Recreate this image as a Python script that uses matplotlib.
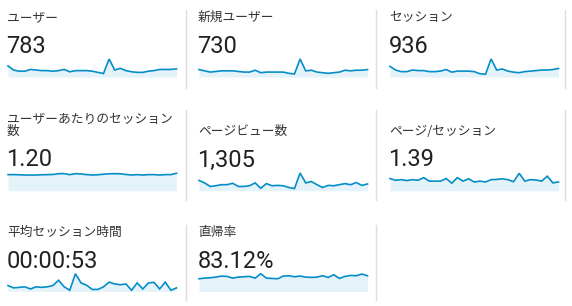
import matplotlib.pyplot as plt
import numpy as np

# panel titles and headline values
titles = ["ユーザー", "新規ユーザー", "セッション",
          "ユーザーあたりのセッション\n数", "ページビュー数", "ページ/セッション",
          "平均セッション時間", "直帰率"]
totals = ["783", "730", "936", "1.20", "1,305", "1.39", "00:00:53", "83.12%"]

# daily values (31 days)
users = [33, 26, 24, 24, 27, 26, 25, 25, 24, 25, 27, 23, 25, 25, 25, 24,
         22, 20, 45, 26, 29, 25, 23, 22, 22, 24, 25, 27, 27, 27, 28]
new_users = [26, 24, 22, 23, 24, 24, 24, 23, 22, 22, 25, 21, 22, 22, 22, 22,
             20, 19, 43, 24, 25, 22, 21, 20, 21, 22, 25, 24, 25, 25, 26]
sessions = [38, 31, 28, 28, 31, 30, 30, 28, 28, 29, 32, 27, 29, 29, 29, 28,
            24, 23, 52, 31, 33, 29, 27, 26, 28, 29, 30, 31, 31, 32, 34]
sess_per_user = [1.19, 1.19, 1.18, 1.16, 1.16, 1.16, 1.18, 1.19, 1.20, 1.26, 1.26,
                 1.19, 1.26, 1.24, 1.19, 1.16, 1.18, 1.22, 1.25, 1.26, 1.25, 1.20,
                 1.16, 1.19, 1.16, 1.19, 1.19, 1.16, 1.19, 1.19, 1.29]
pageviews = [54, 47, 37, 39, 42, 42, 46, 37, 37, 39, 47, 32, 45, 39, 40, 39,
             34, 31, 75, 47, 51, 42, 34, 40, 39, 42, 45, 42, 48, 40, 44]
pages_per_sess = [1.44, 1.38, 1.40, 1.37, 1.40, 1.38, 1.47, 1.35, 1.35, 1.35, 1.44,
                  1.28, 1.47, 1.35, 1.43, 1.32, 1.35, 1.32, 1.40, 1.41, 1.43, 1.40,
                  1.33, 1.62, 1.35, 1.40, 1.39, 1.35, 1.52, 1.29, 1.32]
avg_duration = [56, 47, 49, 51, 43, 51, 49, 51, 56, 76, 51, 38, 101, 66, 57, 41,
                41, 51, 69, 62, 59, 62, 38, 66, 43, 66, 68, 43, 69, 38, 47]
bounce_rate = [78.2, 79.8, 80.6, 82.2, 84.6, 83.8, 79.8, 82.2, 83.0, 83.8, 79.8,
               90.2, 79.8, 79.0, 78.2, 84.6, 85.4, 83.0, 84.6, 82.2, 81.4, 82.2,
               85.4, 81.4, 87.8, 79.0, 83.8, 86.2, 85.4, 89.4, 85.4]
series = [users, new_users, sessions, sess_per_user, pageviews,
          pages_per_sess, avg_duration, bounce_rate]
# y range of each sparkline
ylims = [(14, 45), (14.1, 43), (17.8, 52), (0, 1.31), (25, 75),
         (1.02, 1.63), (34, 101), (48.6, 90.2)]

W, H = 572, 306
fig = plt.figure(figsize=(W / 100, H / 100), dpi=100)

col_x = [8, 199, 390]
title_y = [24, 138, 239]
value_y = [53, 166.5, 268]
spark_top = [59, 173, 273.7]
spark_bot = [77, 190.7, 291.3]
divider_x = [186, 376, 565]
divider_y = [(10, 88), (110, 200), (225, 300)]
spark_w = 168.5

line_col = "#058dc7"
fill_col = "#e4f2fa"

for i in range(len(series)):
    r, c = divmod(i, 3)
    x0 = col_x[c]
    fig.text((x0 - 1) / W, 1 - title_y[r] / H, titles[i], fontsize=9.2,
             family=["Noto Sans CJK JP", "DejaVu Sans"], color="#333333",
             va="bottom", ha="left", linespacing=0.95)
    fig.text((x0 - 1.5) / W, 1 - value_y[r] / H, totals[i], fontsize=17,
             family="Roboto", color="#212121", va="baseline", ha="left")

    ax = fig.add_axes([x0 / W, 1 - spark_bot[r] / H, spark_w / W,
                       (spark_bot[r] - spark_top[r]) / H])
    vals = np.array(series[i], dtype=float)
    days = np.arange(len(vals))
    lo, hi = ylims[i]
    ax.fill_between(days, vals, lo, color=fill_col, lw=0)
    ax.plot(days, vals, color=line_col, lw=1.2, clip_on=False,
            solid_joinstyle="miter")
    ax.set_xlim(0, len(vals) - 1)
    ax.set_ylim(lo, hi)
    ax.axis("off")

    # grey divider on the right of each card
    y1, y2 = divider_y[r]
    fig.add_artist(plt.Line2D([divider_x[c] / W] * 2, [1 - y1 / H, 1 - y2 / H],
                              color="#dddddd", lw=1))

fig.savefig("out.png", dpi=100)
